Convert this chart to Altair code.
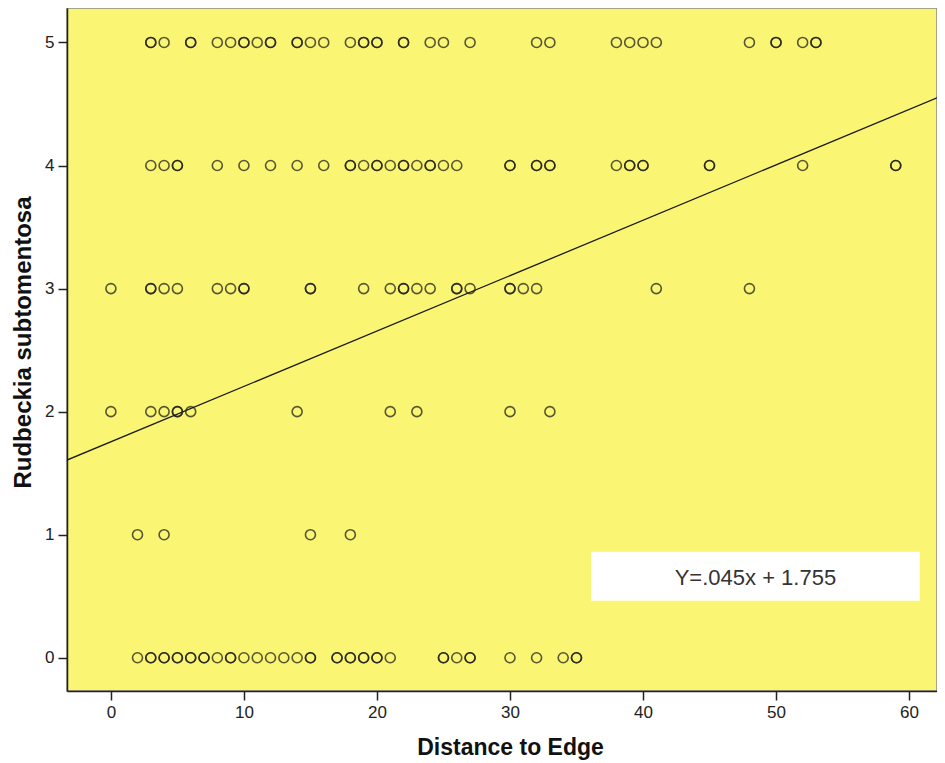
import altair as alt
import pandas as pd

# Distance-to-edge values for each Rudbeckia subtomentosa score
x_score5 = [3, 3, 4, 6, 6, 8, 9, 10, 10, 11, 12, 12, 14, 14, 15, 16, 18, 19, 19, 20, 20,
            22, 22, 24, 25, 27, 32, 33, 38, 39, 40, 41, 48, 50, 50, 52, 53, 53]
x_score4 = [3, 4, 5, 5, 8, 10, 12, 14, 16, 18, 18, 19, 20, 20, 21, 22, 22, 23, 24, 24, 25, 26,
            30, 30, 32, 32, 33, 33, 38, 39, 39, 40, 40, 45, 45, 52, 59, 59]
x_score3 = [0, 3, 3, 4, 5, 8, 9, 10, 10, 15, 15, 19, 21, 22, 22, 23, 24, 26, 26, 27,
            30, 30, 31, 32, 41, 48]
x_score2 = [0, 3, 4, 5, 5, 6, 14, 21, 23, 30, 33]
x_score1 = [2, 4, 15, 18]
x_score0 = [2, 3, 3, 4, 4, 5, 5, 6, 6, 7, 7, 8, 9, 9, 10, 11, 12, 13, 14, 15, 15,
            17, 17, 18, 18, 19, 19, 20, 20, 21, 25, 25, 26, 27, 27, 30, 32, 34, 35, 35]

slope = 0.045
intercept = 1.755
equation_label = "Y=.045x + 1.755"

x_domain = [-3.3, 62.1]
y_domain = [-0.27, 5.28]
x_ticks = [0, 10, 20, 30, 40, 50, 60]
y_ticks = [0, 1, 2, 3, 4, 5]

rows = []
for score, xs in [(5, x_score5), (4, x_score4), (3, x_score3), (2, x_score2), (1, x_score1), (0, x_score0)]:
    for v in xs:
        rows.append({"distance": v, "score": score})
df = pd.DataFrame(rows)

line_df = pd.DataFrame({"distance": x_domain,
                        "score": [intercept + slope * x_domain[0], intercept + slope * x_domain[1]]})
box_df = pd.DataFrame({"x1": [36.1], "x2": [60.8], "y1": [0.463], "y2": [0.862],
                       "tx": [48.45], "ty": [0.645], "label": [equation_label]})

xs = alt.Scale(domain=x_domain, nice=False, zero=False)
ys = alt.Scale(domain=y_domain, nice=False, zero=False)

x_axis = alt.Axis(values=x_ticks, title="Distance to Edge", grid=False, tickSize=9, format="d",
                  labelFontSize=17, titleFontSize=23, titleFontWeight="bold",
                  titlePadding=16, labelPadding=4, titleX=443)
y_axis = alt.Axis(values=y_ticks, title="Rudbeckia subtomentosa", grid=False, tickSize=9, format="d",
                  labelFontSize=17, titleFontSize=24, titleFontWeight="bold",
                  titlePadding=9, labelPadding=4, titleY=334)

points = alt.Chart(df).mark_point(shape="circle", filled=False, size=100, strokeWidth=1.6,
                                  color="#1a1a1a", opacity=0.72, clip=True).encode(
    x=alt.X("distance:Q", scale=xs, axis=x_axis),
    y=alt.Y("score:Q", scale=ys, axis=y_axis),
)

line = alt.Chart(line_df).mark_line(color="#1a1a1a", strokeWidth=1.3, clip=True).encode(
    x=alt.X("distance:Q", scale=xs),
    y=alt.Y("score:Q", scale=ys),
)

box = alt.Chart(box_df).mark_rect(color="white").encode(
    x=alt.X("x1:Q", scale=xs), x2="x2", y=alt.Y("y1:Q", scale=ys), y2="y2"
)
text = alt.Chart(box_df).mark_text(fontSize=22, color="#333333", align="center",
                                   baseline="middle", font="Liberation Sans").encode(
    x=alt.X("tx:Q", scale=xs), y=alt.Y("ty:Q", scale=ys), text="label:N"
)

chart = alt.layer(points, line, box, text).properties(
    width=870, height=683,
    autosize=alt.AutoSizeParams(type="none"),
    padding={"left": 59, "top": 0, "right": 0, "bottom": 70},
    background="white",
).configure_view(
    fill="#FAF573", stroke="#888888", strokeWidth=1.5
).configure_axis(
    domainColor="#222222", tickColor="#222222", labelColor="#222222", titleColor="#111111",
    labelFont="Liberation Sans", titleFont="Liberation Sans", domainWidth=1.5, tickWidth=1.5
)

chart.save("out.html", embed_options={"renderer": "svg", "actions": False})
